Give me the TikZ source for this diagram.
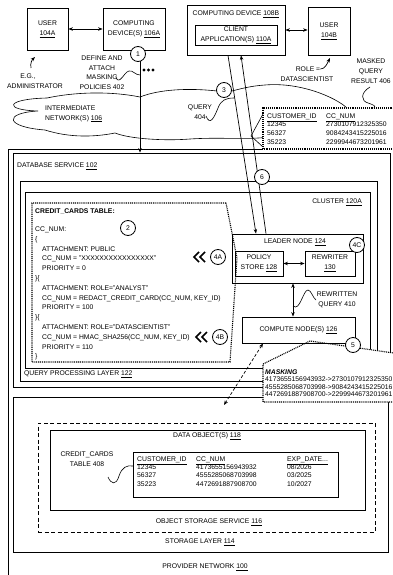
\documentclass[tikz,border=0pt]{standalone}
\usepackage{fontspec}
\setmainfont{Liberation Sans}
\usetikzlibrary{arrows.meta}
\newcommand{\fs}{\fontsize{6.8}{9.8}\selectfont}
\newcommand{\un}[1]{\underline{#1}}
\tikzset{
  lbl/.style={font=\fs, inner sep=0pt, align=center},
  box/.style={draw, line width=0.8pt, inner sep=0pt, font=\fs, align=center},
  ln/.style={line width=0.8pt},
  circ/.style={draw, circle, fill=white, minimum size=15pt, inner sep=0pt, line width=0.8pt, font=\fs},
  arr/.style={-{Stealth[length=4.5pt,width=3.5pt]}, line width=0.7pt},
  dbl/.style={{Stealth[length=4.5pt,width=3.5pt]}-{Stealth[length=4.5pt,width=3.5pt]}, line width=0.7pt},
  dotl/.style={line width=1.1pt, dash pattern=on 1pt off 0.9pt},
  thinl/.style={line width=0.6pt},
  chev/.style={line width=1.5pt},
  tl/.style={font=\fs, inner sep=0pt, anchor=base west},
}
\begin{document}
\begin{tikzpicture}[x=1pt,y=-1pt]
\useasboundingbox (0,0) rectangle (393,575);

% ---------- big containers ----------
\draw[ln] (263,149) -- (8,149) -- (8,580);
\node[box, minimum width=377pt, minimum height=234pt] (db) at (201.5,270) {};
\node[lbl, anchor=west] (dbl) at (17,166) {DATABASE SERVICE \un{102}};
\node[box, minimum width=357pt, minimum height=200pt] (qpl) at (198.5,281) {};
\node[lbl, anchor=west] (qpll) at (24,374) {QUERY PROCESSING LAYER \un{122}};
\node[box, minimum width=345pt, minimum height=176pt] (cl) at (197.5,280) {};
\node[lbl, anchor=east] (cll) at (362,202) {CLUSTER \un{120A}};
\node[box, minimum width=375pt, minimum height=155pt] (sl) at (200.5,474.5) {};
\node[lbl] (sll) at (200,542) {STORAGE LAYER \un{114}};

% ---------- top row ----------
\node[box, minimum width=41pt, minimum height=42pt] (u1) at (47.5,29) {USER\\\un{104A}};
\node[box, minimum width=62pt, minimum height=42pt] (cd1) at (134,29) {COMPUTING\\DEVICE(S) \un{106A}};
\draw[dbl] (u1) -- (cd1);
\draw[arr] (31,68) .. controls (30,63) and (32,60) .. (35,57);
\node[lbl] (eg) at (28,77) {E.G.,};
\node[lbl] (adm) at (35,86) {ADMINISTRATOR};

\node[box, minimum width=98pt, minimum height=50pt] (cd2) at (236,30) {};
\node[lbl] (cd2l) at (236,14) {COMPUTING DEVICE \un{108B}};
\node[box, minimum width=82pt, minimum height=20pt] (ca) at (236,35) {CLIENT\\APPLICATION(S) \un{110A}};
\node[box, minimum width=42pt, minimum height=48pt] (u2) at (329,31) {USER\\\un{104B}};
\draw[dbl] (cd2.east) -- (cd2.east -| u2.west);
\node[lbl] (role) at (308,69) {ROLE =};
\node[lbl] (ds) at (307,79) {DATASCIENTIST};
\draw[arr] (role.east) .. controls (325,69) and (327,64) .. (330,58);

\node[lbl] (mqr) at (371,71) {MASKED\\QUERY\\RESULT 406};
\draw[thinl] (370,87) .. controls (360,93) and (361,101) .. (368,103) .. controls (374,105) and (376,106) .. (374,108);

% ---------- cloud ----------
\draw[thinl] (140,97) .. controls (110,91) and (75,92) .. (47,98)
  .. controls (5,99) and (3,110) .. (38,111)
  .. controls (3,113) and (5,127) .. (45,130)
  .. controls (70,138) and (95,137) .. (115,133)
  .. controls (130,139) and (165,141) .. (190,139)
  .. controls (220,137) and (245,140) .. (270,137)
  -- (300,125) -- (347,108)
  .. controls (335,97) and (300,82) .. (265,85)
  .. controls (250,86) and (240,89) .. (232,91)
  -- (217,91)
  .. controls (190,88) and (160,89) .. (140,97);
\node[lbl, align=left, anchor=west] (net) at (45,114) {INTERMEDIATE\\NETWORK(S) \un{106}};

% ---------- step 1 ----------
\coordinate (px) at (140,0);
\draw[arr] (cd1.south -| px) -- (db.north -| px);
\node[circ] (c1) at (138,54) {1};
\fill (144,70) circle (1.6pt) (148.5,70) circle (1.6pt) (153,70) circle (1.6pt);
\node[lbl] (def) at (102,72.7) {DEFINE AND\\ATTACH\\MASKING\\POLICIES 402};
\draw[thinl] (116,78) .. controls (120,85) and (124,72) .. (129,71) .. controls (133,70) and (135,75) .. (140,75);

% ---------- leader node ----------
\node[box, minimum width=131pt, minimum height=49pt] (ln) at (297.5,258.5) {};
\node[lbl] (lnl) at (295,242) {LEADER NODE \un{124}};

% ---------- query / result lines ----------
\coordinate (pa) at (228,0); \coordinate (pb) at (256,0);
\coordinate (pc) at (241,0); \coordinate (pd) at (266,0);
\draw[arr] (cd2.south -| pa) -- (ln.north -| pb);
\draw[arr] (ln.north -| pd) -- (cd2.south -| pc);
\node[circ] (c3) at (224,90) {3};
\node[lbl] (q404) at (200,112) {QUERY\\404};
\draw[thinl] (206,116) .. controls (210,126) and (214,118) .. (218,108) .. controls (221,100) and (226,98) .. (234,98);
\node[circ] (c6) at (262,177) {6};

% ---------- masked query result ----------
\fill[white] (263,108) rectangle (400,149);
\draw[dotl] (400,108) -- (263,108) -- (263,149) -- (400,149);
\draw[thinl] (263,114) -- (251,136) -- (263,147);
\node[tl] at (267,118.4) {\un{CUSTOMER\_ID}};
\node[tl] at (326,118.4) {\un{CC\_NUM}};
\node[tl] at (267,127.0) {12345};
\node[tl] at (326,127.0) {2730107912325350};
\node[tl] at (267,135.5) {56327};
\node[tl] at (326,135.5) {9084243415225016};
\node[tl] at (267,144.0) {35223};
\node[tl] at (326,144.0) {2299944673201961};

% ---------- credit cards policy callout ----------
\draw[dotl] (226,203) -- (32,203) -- (32,362) -- (230,362) -- (237,258) -- cycle;
\node[tl, font=\fs\bfseries] at (35,213.4) {CREDIT\_CARDS TABLE:};
\node[tl] at (35,231.4) {CC\_NUM:};
\node[tl] at (35,241.2) {\{};
\node[tl] at (42,251.0) {ATTACHMENT: PUBLIC};
\node[tl] at (42,260.8) {CC\_NUM = "XXXXXXXXXXXXXXXX"};
\node[tl] at (42,270.6) {PRIORITY = 0};
\node[tl] at (35,280.4) {\}\{};
\node[tl] at (42,290.2) {ATTACHMENT: ROLE="ANALYST"};
\node[tl] at (42,300.0) {CC\_NUM = REDACT\_CREDIT\_CARD(CC\_NUM, KEY\_ID)};
\node[tl] at (42,309.8) {PRIORITY = 100};
\node[tl] at (35,319.6) {\}\{};
\node[tl] at (42,329.4) {ATTACHMENT: ROLE="DATASCIENTIST"};
\node[tl] at (42,339.2) {CC\_NUM = HMAC\_SHA256(CC\_NUM, KEY\_ID)};
\node[tl] at (42,349.0) {PRIORITY = 110};
\node[tl] at (35,358.8) {\}};
\node[circ] (c2) at (128,228) {2};
\draw[chev] (199,252) -- (194,257) -- (199,262) (205,252) -- (200,257) -- (205,262);
\node[circ] (c4a) at (218,257) {4A};
\draw[chev] (201,332) -- (196,337) -- (201,342) (207,332) -- (202,337) -- (207,342);
\node[circ] (c4b) at (220,337) {4B};

% ---------- leader internals ----------
\node[box, minimum width=48pt, minimum height=25pt] (ps) at (259,263.5) {POLICY\\STORE \un{128}};
\node[box, minimum width=50pt, minimum height=25pt] (rw) at (330,263.5) {REWRITER\\\un{130}};
\draw[dbl] (ps) -- (rw);
\node[circ] (c4c) at (357,245) {4C};

% ---------- masking callout + compute node ----------
\fill[white] (263,402) -- (263,364) -- (310,341) -- (470,364) -- (470,402) -- cycle;
\draw[dotl] (470,402) -- (263,402) -- (263,364) -- (310,341) -- (470,364);
\node[box, minimum width=113pt, minimum height=26pt] (cn) at (298.5,330) {COMPUTE NODE(S) \un{126}};
\coordinate (cx) at (293,0);
\draw[dbl] (ln.south -| cx) -- (cn.north -| cx);
\draw[thinl] (293,306) .. controls (300,312) and (303,290) .. (308,290) .. controls (311,290) and (313,298) .. (316,300);
\node[lbl] (rq) at (337,299.5) {REWRITTEN\\QUERY 410};
\node[circ] (c5) at (353,345) {5};
\node[tl, font=\fs\bfseries\itshape] at (265,374.0) {MASKING};
\node[tl] at (265,381.5) {4173655156943932->2730107912325350};
\node[tl] at (265,389.0) {4555285068703998->9084243415225016};
\node[tl] at (265,396.5) {4472691887908700->2299944673201961};

% ---------- storage ----------
\coordinate (pe) at (263,0);
\coordinate (sa) at (224,405);
\draw[dbl, dash pattern=on 3pt off 2pt] (cn.south -| pe) -- (sa);
\node[box, dash pattern=on 4pt off 2.5pt, minimum width=337pt, minimum height=109pt] (oss) at (206.5,477.5) {};
\node[lbl] (ossl) at (209,522) {OBJECT STORAGE SERVICE \un{116}};
\node[box, minimum width=315pt, minimum height=80pt] (do) at (207.5,470) {};
\node[lbl] (dol) at (207,436) {DATA OBJECT(S) \un{118}};
\node[box, minimum width=205pt, minimum height=45pt] (tbl) at (235.5,474.5) {};
\node[tl] at (137,461.4) {\un{CUSTOMER\_ID}};
\node[tl] at (196,461.4) {\un{CC\_NUM}};
\node[tl] at (287,461.4) {\un{EXP\_DATE...}};
\node[tl] at (137,469.4) {12345};
\node[tl] at (196,469.4) {4173655156943932};
\node[tl] at (287,469.4) {08/2026};
\node[tl] at (137,477.9) {56327};
\node[tl] at (196,477.9) {4555285068703998};
\node[tl] at (287,477.9) {03/2025};
\node[tl] at (137,486.4) {35223};
\node[tl] at (196,486.4) {4472691887908700};
\node[tl] at (287,486.4) {10/2027};
\node[lbl] (cct) at (87,459) {CREDIT\_CARDS\\TABLE 408};
\draw[thinl] (108,477) .. controls (111,484) and (116,486) .. (119,476) .. controls (122,467) and (127,465) .. (133,466);
\node[lbl] (pn) at (205,567) {PROVIDER NETWORK \un{100}};
\end{tikzpicture}
\end{document}
